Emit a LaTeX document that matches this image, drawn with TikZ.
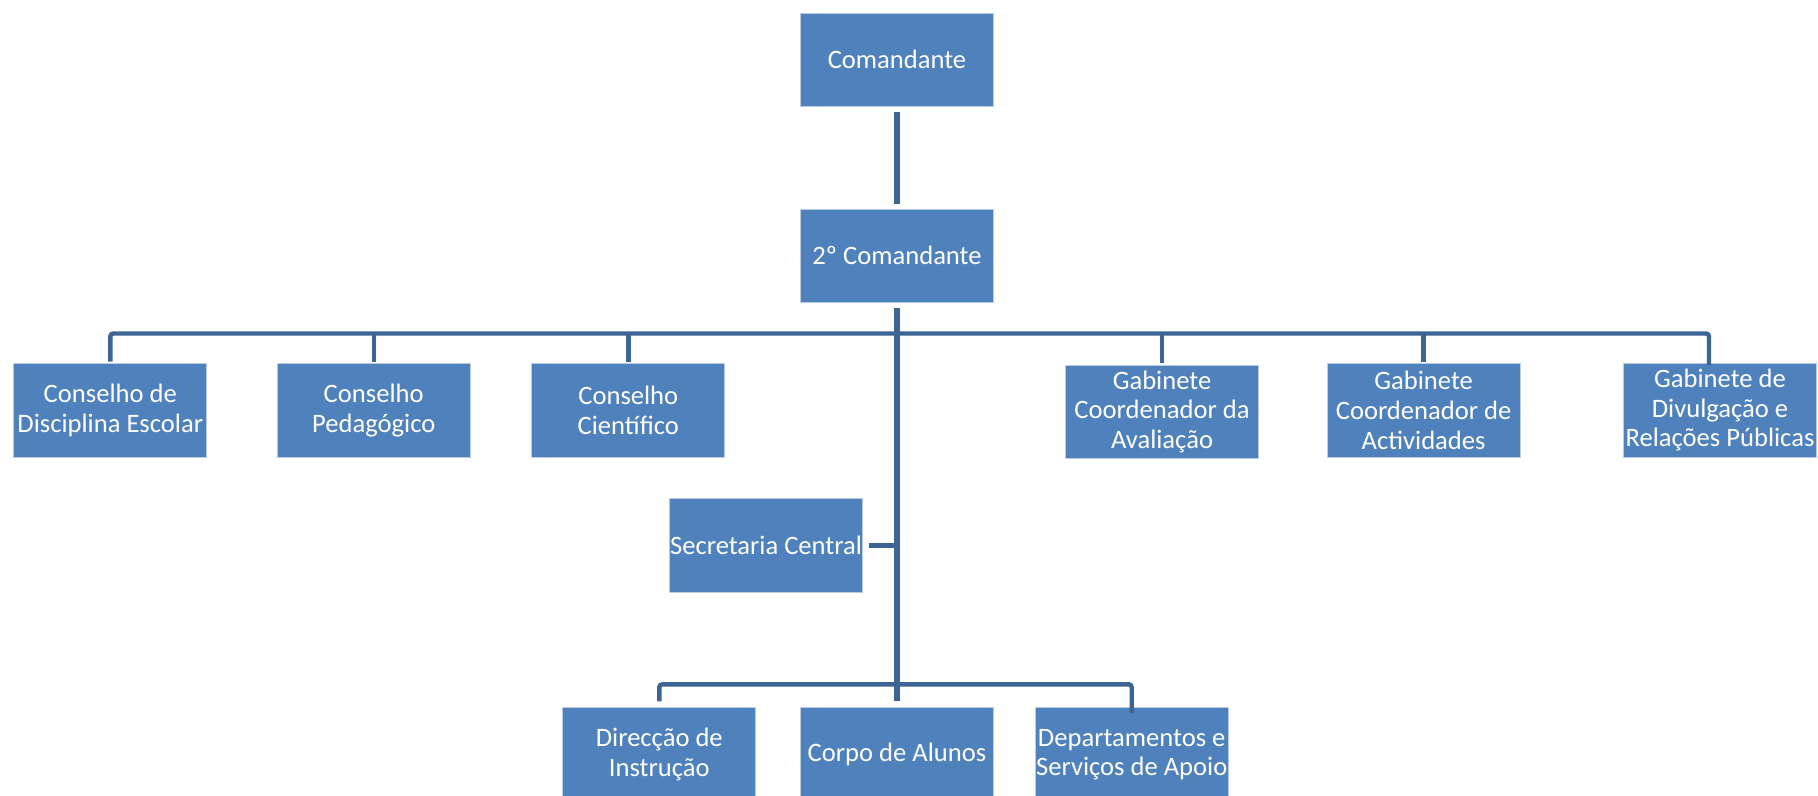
\documentclass[tikz,border=0pt]{standalone}
\usepackage{fontspec}
\setmainfont{Carlito}
\definecolor{boxfill}{HTML}{4F81BD}
\definecolor{boxedge}{HTML}{B9CDE5}
\definecolor{linkcol}{HTML}{3C6494}
\begin{document}
\begin{tikzpicture}[x=0.5pt,y=-0.5pt,
  unit/.style={rectangle, fill=boxfill, draw=boxedge, line width=0.4pt,
    minimum width=96.5pt, minimum height=46.75pt, inner sep=0pt,
    text=white, align=center, font=\fontsize{13.3}{14.8}\selectfont},
  trunk/.style={draw=linkcol, line width=3pt},
  branch/.style={draw=linkcol, line width=2.2pt, rounded corners=1.5pt}]
  \useasboundingbox (0,0) rectangle (1818,796);

  % top of the chain
  \node[unit] (com)  at (897,59.7)   {Comandante};
  \node[unit] (com2) at (897,255.7)  {2º Comandante};

  % councils and offices on the first tier
  \node[unit] (cde) at (110.3,410.3) {Conselho de\\Disciplina Escolar};
  \node[unit] (cp)  at (373.7,410.3) {Conselho\\Pedagógico};
  \node[unit] (cc)  at (628.3,410.3) {Conselho\\Científico};
  \node[unit] (gca) at (1162,411.8)  {Gabinete\\Coordenador da\\Avaliação};
  \node[unit] (gcd) at (1423.6,410.3){Gabinete\\Coordenador de\\Actividades};
  \node[unit] (gdr) at (1720,410.3)  {Gabinete de\\Divulgação e\\Relações Públicas};

  % secretariat beside the trunk
  \node[unit] (sec) at (766,545.3) {Secretaria Central};

  % lower tier
  \node[unit] (dir) at (659.3,754.5) {Direcção de\\Instrução};
  \node[unit] (cor) at (897,754.5)   {Corpo de Alunos};
  \node[unit] (dep) at (1131.7,754.5){Departamentos e\\Serviços de Apoio};

  \coordinate (bar)  at (0,333.5);
  \coordinate (low)  at (0,684.3);
  \coordinate (gdrx) at (1709,0);

  % main trunk
  \draw[trunk, shorten <=2.5pt, shorten >=2.5pt] (com.south) -- (com2.north);
  \draw[trunk, shorten <=2.8pt, shorten >=3pt] (com2.south) -- (cor.north);

  % first-tier bar and drops
  \draw[branch, shorten <=0.8pt] (cde.north) |- (gdrx |- bar) -- ([yshift=-0.8pt]gdrx |- gdr.north);
  \foreach \n in {cp,cc,gca,gcd}
    \draw[branch, shorten <=0.8pt] (\n.north) -- (\n.north |- bar);

  % secretariat link
  \draw[branch, shorten <=2.8pt] (sec.east) -- (sec.east -| com2.south);

  % lower bar and drops
  \draw[branch, shorten <=3pt] (dir.north) |- (dep.north |- low) -- ([yshift=-3pt]dep.north);
\end{tikzpicture}
\end{document}
